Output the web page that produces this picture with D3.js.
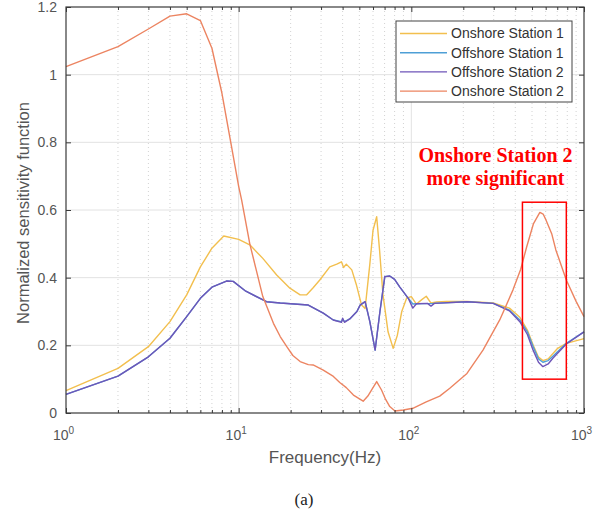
<!DOCTYPE html>
<html><head><meta charset="utf-8">
<script src="https://cdn.jsdelivr.net/npm/d3@7"></script>
<style>
html,body{margin:0;padding:0;background:#fff;}
svg{display:block;}
</style></head>
<body>
<svg id="chart" width="610" height="518"></svg>
<script>
// ---------- data ----------
const seriesNames = ["Onshore Station 1","Offshore Station 1","Offshore Station 2","Onshore Station 2"];
const seriesColors = ["#f2bf4e","#4e9fd6","#6e55b8","#ec8461"];

const onshore1Freq = [1,2,3,4,5,6,7,8.2,10,11.6,13.8,16.6,19.8,22.7,24.7,27,29.5,33.7,37,39.4,40.5,42,45.2,48,51.5,54,57.5,60,63,65.5,68.5,73.3,78.5,83,88,94,100,107,115,122,130,140,160,210,298,370,425,470,508,545,578,620,700,790,1000];
const onshore1Vals = [0.066,0.132,0.196,0.27,0.349,0.432,0.487,0.523,0.513,0.497,0.457,0.408,0.369,0.349,0.349,0.37,0.393,0.432,0.44,0.447,0.43,0.44,0.423,0.38,0.319,0.309,0.44,0.54,0.58,0.48,0.35,0.24,0.191,0.23,0.30,0.34,0.344,0.322,0.335,0.345,0.325,0.328,0.33,0.33,0.325,0.31,0.283,0.245,0.20,0.165,0.155,0.16,0.19,0.206,0.22];

const offshore1Freq = [1,2,3,4,5,6,7,8.5,9.3,11,14.5,17.4,25.3,30.9,35.3,39.4,40,41,44,48.4,50.5,54,57.5,61.7,65.8,70.2,75,80,85.6,96,102,107,134,210,298,370,425,470,508,545,578,620,660,790,1000];
const offshore1Vals = [0.055,0.109,0.166,0.221,0.285,0.339,0.372,0.39,0.389,0.36,0.329,0.325,0.319,0.295,0.275,0.27,0.278,0.27,0.278,0.30,0.319,0.329,0.27,0.186,0.30,0.403,0.405,0.395,0.373,0.339,0.322,0.323,0.324,0.329,0.324,0.304,0.275,0.24,0.196,0.16,0.15,0.155,0.168,0.206,0.24];

const offshore2Freq = [1,2,3,4,5,6,7,8.5,9.3,11,14.5,17.4,25.3,30.9,35.3,39.4,40,41,44,48.4,50.5,54,57.5,61.7,65.8,70.2,75,80,85.6,96,102,107,124,130,136,210,298,370,425,470,508,545,578,620,660,790,1000];
const offshore2Vals = [0.055,0.109,0.166,0.221,0.285,0.339,0.372,0.39,0.389,0.36,0.329,0.325,0.319,0.295,0.275,0.268,0.28,0.268,0.278,0.30,0.319,0.329,0.27,0.186,0.30,0.403,0.405,0.395,0.373,0.339,0.31,0.323,0.324,0.316,0.324,0.329,0.324,0.302,0.27,0.232,0.185,0.15,0.137,0.145,0.162,0.204,0.24];

const onshore2Freq = [1,2,3,4,5,6,7,8,9,10,10.4,11.6,13.8,15.9,17.4,19,20.6,22.7,25.3,27,30.9,35,38.5,42,46.2,52.6,56,58.9,63,67.2,71,75,80.4,90,102,122,146,167,210,260,325,388,430,465,510,555,580,603,650,687,790,900,1000];
const onshore2Vals = [1.024,1.083,1.135,1.173,1.18,1.16,1.078,0.945,0.80,0.67,0.63,0.50,0.344,0.265,0.226,0.196,0.17,0.152,0.143,0.142,0.127,0.11,0.09,0.075,0.053,0.035,0.05,0.068,0.093,0.068,0.04,0.019,0.006,0.009,0.014,0.033,0.05,0.073,0.117,0.186,0.275,0.364,0.425,0.49,0.56,0.593,0.588,0.57,0.53,0.482,0.393,0.33,0.285];

const xTickValues = [1,10,100,1000];
const xTickExponents = ["0","1","2","3"];
const yTickValues = [0,0.2,0.4,0.6,0.8,1,1.2];
const yTickLabels = ["0","0.2","0.4","0.6","0.8","1","1.2"];
const annotationLines = ["Onshore Station 2","more significant"];
const annotationBoxFreq = [440, 790];
const annotationBoxVals = [0.1, 0.623];

// ---------- layout ----------
const svg = d3.select("#chart");
const L = 66, R = 584, T = 7, B = 413;
const x = d3.scaleLog().domain([1,1000]).range([L,R]);
const y = d3.scaleLinear().domain([0,1.2]).range([B,T]);
const axisColor = "#3a3a3a";
const textColor = "#555";
const font = "'Liberation Sans', Arial, sans-serif";

const minorFreqs = [];
[1,10,100].forEach(d => { for (let k=2;k<=9;k++) minorFreqs.push(d*k); });

// grid
const grid = svg.append("g");
grid.selectAll(".vminor").data(minorFreqs).join("line")
  .attr("x1", d=>x(d)).attr("x2", d=>x(d)).attr("y1", T).attr("y2", B)
  .attr("stroke", "#d2d2d2").attr("stroke-width", 1).attr("stroke-dasharray", "1,3");
grid.selectAll(".vmajor").data(xTickValues.slice(1,3)).join("line")
  .attr("x1", d=>x(d)).attr("x2", d=>x(d)).attr("y1", T).attr("y2", B)
  .attr("stroke", "#e2e2e2").attr("stroke-width", 1);
grid.selectAll(".hmajor").data(yTickValues.slice(1,6)).join("line")
  .attr("x1", L).attr("x2", R).attr("y1", d=>y(d)).attr("y2", d=>y(d))
  .attr("stroke", "#e2e2e2").attr("stroke-width", 1);

// lines
const series = [
  {f: onshore1Freq, v: onshore1Vals},
  {f: offshore1Freq, v: offshore1Vals},
  {f: offshore2Freq, v: offshore2Vals},
  {f: onshore2Freq, v: onshore2Vals}
];
const line = d3.line().x(d=>x(d[0])).y(d=>y(d[1]));
const plot = svg.append("g");
series.forEach((s,i) => {
  plot.append("path")
    .datum(s.f.map((f,j)=>[f, s.v[j]]))
    .attr("d", line).attr("fill","none")
    .attr("stroke", seriesColors[i]).attr("stroke-width", 1.4)
    .attr("stroke-linejoin","round");
});

// axes
const xAxis = d3.axisBottom(x).tickValues(xTickValues).tickSize(-5).tickPadding(17).tickFormat(()=>"");
const gx = svg.append("g").attr("transform", `translate(0,${B})`).call(xAxis);
gx.selectAll(".tick text").each(function(d,i){
  const t = d3.select(this);
  t.append("tspan").text("10");
  t.append("tspan").attr("dy","-6").attr("font-size","10px").text(xTickExponents[i]);
});
gx.selectAll(".tick text").attr("fill", textColor).attr("font-family", font).attr("font-size","14px").attr("dx","-3");
gx.select(".domain").remove();
const xMinor = d3.axisBottom(x).tickValues(minorFreqs).tickSize(-3).tickFormat(()=>"");
svg.append("g").attr("transform", `translate(0,${B})`).call(xMinor).select(".domain").remove();
svg.append("g").attr("transform", `translate(0,${T})`).call(d3.axisTop(x).tickValues(xTickValues).tickSize(-5).tickFormat(()=>"")).select(".domain").remove();
svg.append("g").attr("transform", `translate(0,${T})`).call(d3.axisTop(x).tickValues(minorFreqs).tickSize(-3).tickFormat(()=>"")).select(".domain").remove();

const yAxis = d3.axisLeft(y).tickValues(yTickValues).tickSize(-5).tickPadding(9).tickFormat((d,i)=>yTickLabels[i]);
const gy = svg.append("g").attr("transform", `translate(${L},0)`).call(yAxis);
gy.selectAll("text").attr("fill", textColor).attr("font-family", font).attr("font-size","14px");
gy.select(".domain").remove();
svg.append("g").attr("transform", `translate(${R},0)`).call(d3.axisRight(y).tickValues(yTickValues).tickSize(-5).tickFormat(()=>"")).select(".domain").remove();
svg.selectAll(".tick line").attr("stroke", axisColor);

// frame
svg.append("rect").attr("x", L).attr("y", T).attr("width", R-L).attr("height", B-T)
  .attr("fill","none").attr("stroke", axisColor).attr("stroke-width", 1.2);

// axis labels
svg.append("text").attr("x", 325).attr("y", 463).attr("text-anchor","middle")
  .attr("font-family", font).attr("font-size","17px").attr("fill", textColor).text("Frequency(Hz)");
svg.append("text").attr("transform","translate(29,213) rotate(-90)").attr("text-anchor","middle")
  .attr("font-family", font).attr("font-size","16.5px").attr("fill", textColor).text("Normalized sensitivity function");
svg.append("text").attr("x", 304).attr("y", 505).attr("text-anchor","middle")
  .attr("font-family","'Liberation Serif', 'Times New Roman', serif").attr("font-size","17px").attr("fill","#222").text("(a)");

// annotation
svg.append("rect")
  .attr("x", x(annotationBoxFreq[0])).attr("y", y(annotationBoxVals[1]))
  .attr("width", x(annotationBoxFreq[1]) - x(annotationBoxFreq[0]))
  .attr("height", y(annotationBoxVals[0]) - y(annotationBoxVals[1]))
  .attr("fill","none").attr("stroke","#ff0000").attr("stroke-width",1.5);
svg.append("g").selectAll("text").data(annotationLines).join("text")
  .attr("x", 495.5).attr("y", (d,i)=>162 + i*23).attr("text-anchor","middle")
  .attr("font-family","'Liberation Serif', 'Times New Roman', serif").attr("font-weight","bold")
  .attr("font-size","20px").attr("fill","#ff0000").text(d=>d);

// legend
const lg = svg.append("g");
lg.append("rect").attr("x", 396).attr("y", 21).attr("width", 176).attr("height", 81)
  .attr("fill","#fff").attr("stroke","#444").attr("stroke-width",1);
seriesNames.forEach((n,i) => {
  const yy = 33.5 + i*19.2;
  lg.append("line").attr("x1",400).attr("x2",447).attr("y1",yy).attr("y2",yy)
    .attr("stroke", seriesColors[i]).attr("stroke-width",1.4);
  lg.append("text").attr("x",451).attr("y",yy).attr("dy","0.35em")
    .attr("font-family", font).attr("font-size","14px").attr("fill","#333").text(n);
});
</script>
</body></html>
